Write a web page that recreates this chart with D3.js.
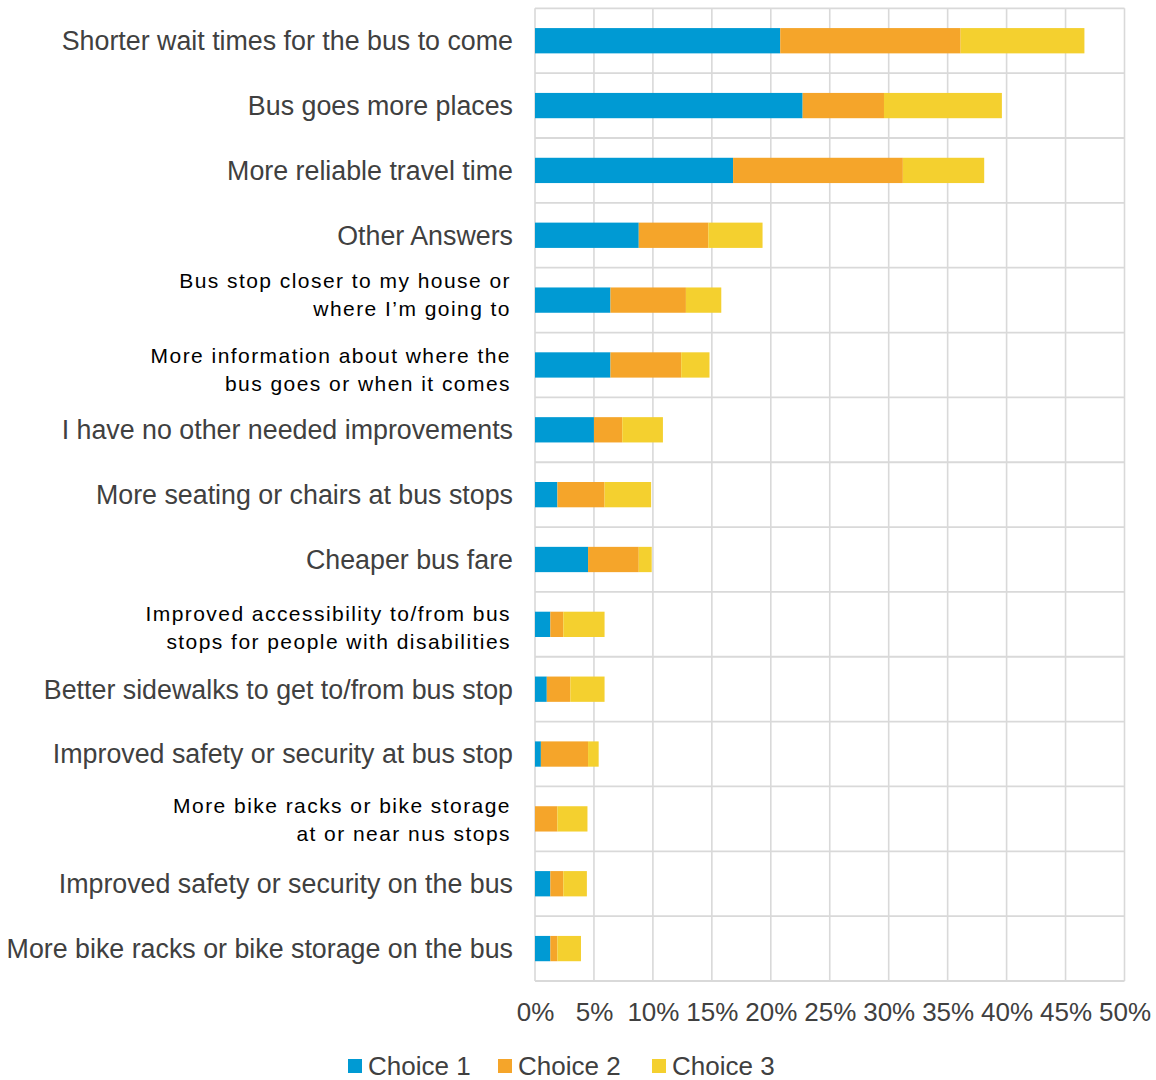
<!DOCTYPE html>
<html><head><meta charset="utf-8">
<script src="https://cdn.jsdelivr.net/npm/d3@7"></script>
<style>body{margin:0;background:#fff;}svg{display:block;font-family:"Liberation Sans",Arial,sans-serif;}</style>
</head><body>
<script>
const categories = [
  "Shorter wait times for the bus to come",
  "Bus goes more places",
  "More reliable travel time",
  "Other Answers",
  "Bus stop closer to my house or\nwhere I’m going to",
  "More information about where the\nbus goes or when it comes",
  "I have no other needed improvements",
  "More seating or chairs at bus stops",
  "Cheaper bus fare",
  "Improved accessibility to/from bus\nstops for people with disabilities",
  "Better sidewalks to get to/from bus stop",
  "Improved safety or security at bus stop",
  "More bike racks or bike storage\nat or near nus stops",
  "Improved safety or security on the bus",
  "More bike racks or bike storage on the bus"
];
const choice1 = [20.8, 22.7, 16.8, 8.8, 6.4, 6.4, 5.0, 1.9, 4.5, 1.3, 1.0, 0.5, 0.0, 1.3, 1.3];
const choice2 = [15.3, 6.9, 14.4, 5.9, 6.4, 6.0, 2.4, 4.0, 4.3, 1.1, 2.0, 4.0, 1.9, 1.1, 0.6];
const choice3 = [10.5, 10.0, 6.9, 4.6, 3.0, 2.4, 3.45, 3.95, 1.1, 3.5, 2.9, 0.9, 2.55, 2.0, 2.0];
const seriesNames = ["Choice 1", "Choice 2", "Choice 3"];
const colors = ["#009AD3", "#F5A52A", "#F4D02F"];
const tickValues = [0, 5, 10, 15, 20, 25, 30, 35, 40, 45, 50];

(function () {
const W = 1156, H = 1080;
const pLeft = 535, pRight = 1124.5, pTop = 8.3, pBottom = 981;

const svg = d3.select("body").append("svg").attr("width", W).attr("height", H);

const x = d3.scaleLinear().domain([0, 50]).range([pLeft, pRight]);
const y = d3.scaleBand().domain(categories).range([pTop, pBottom]).paddingInner(0.61).paddingOuter(0.305);
const yRow = d3.scaleBand().domain(categories).range([pTop, pBottom]);

const grid = svg.append("g");
grid.selectAll("line.v").data(tickValues).join("line").attr("class", "v")
  .attr("x1", d => x(d)).attr("x2", d => x(d)).attr("y1", pTop).attr("y2", pBottom)
  .attr("stroke", "#d9d9d9").attr("stroke-width", 1.6);
const hLines = categories.map(c => yRow(c)).concat([pBottom]);
grid.selectAll("line.h").data(hLines).join("line").attr("class", "h")
  .attr("x1", pLeft).attr("x2", pRight).attr("y1", d => d).attr("y2", d => d)
  .attr("stroke", "#d9d9d9").attr("stroke-width", 1.8);

const table = categories.map((c, i) => ({cat: c, "Choice 1": choice1[i], "Choice 2": choice2[i], "Choice 3": choice3[i]}));
const stacked = d3.stack().keys(seriesNames)(table);

svg.append("g").selectAll("g").data(stacked).join("g")
  .attr("fill", (d, i) => colors[i])
  .selectAll("rect").data(d => d).join("rect")
  .attr("x", d => x(d[0])).attr("width", d => x(d[1]) - x(d[0]))
  .attr("y", d => y(d.data.cat)).attr("height", y.bandwidth());

// small per-row vertical nudges of the two-line labels (layout only)
const twoLineNudge = {4: -5, 5: 5, 9: 3, 12: 1};
const labels = svg.append("g");
categories.forEach((c, i) => {
  const lines = c.split("\n");
  const cy = yRow(c) + yRow.bandwidth() / 2;
  if (lines.length === 1) {
    labels.append("text").attr("x", 513).attr("y", cy).attr("dy", "0.35em")
      .attr("text-anchor", "end").attr("font-size", 26.8).attr("fill", "#404040").text(c);
  } else {
    const n = twoLineNudge[i] || 0;
    lines.forEach((l, j) => {
      labels.append("text").attr("x", 511).attr("y", cy + n + (j - 0.5) * 28).attr("dy", "0.35em")
        .attr("text-anchor", "end").attr("font-size", 21).attr("letter-spacing", 1.45)
        .attr("fill", "#000").text(l);
    });
  }
});

const xAxis = d3.axisBottom(x).tickValues(tickValues).tickFormat(d => d + "%").tickSize(0).tickPadding(0);
const ax = svg.append("g").attr("transform", `translate(0,${1003})`).call(xAxis);
ax.select(".domain").remove();
ax.selectAll("text").attr("font-size", 26).attr("fill", "#404040").attr("font-family", "Liberation Sans, Arial, sans-serif");

const legendX = [348, 498, 652];
const lg = svg.append("g");
seriesNames.forEach((s, i) => {
  lg.append("rect").attr("x", legendX[i]).attr("y", 1059).attr("width", 14).attr("height", 14).attr("fill", colors[i]);
  lg.append("text").attr("x", legendX[i] + 20).attr("y", 1066).attr("dy", "0.35em")
    .attr("font-size", 26).attr("fill", "#404040").text(s);
});
})();
</script>
</body></html>
